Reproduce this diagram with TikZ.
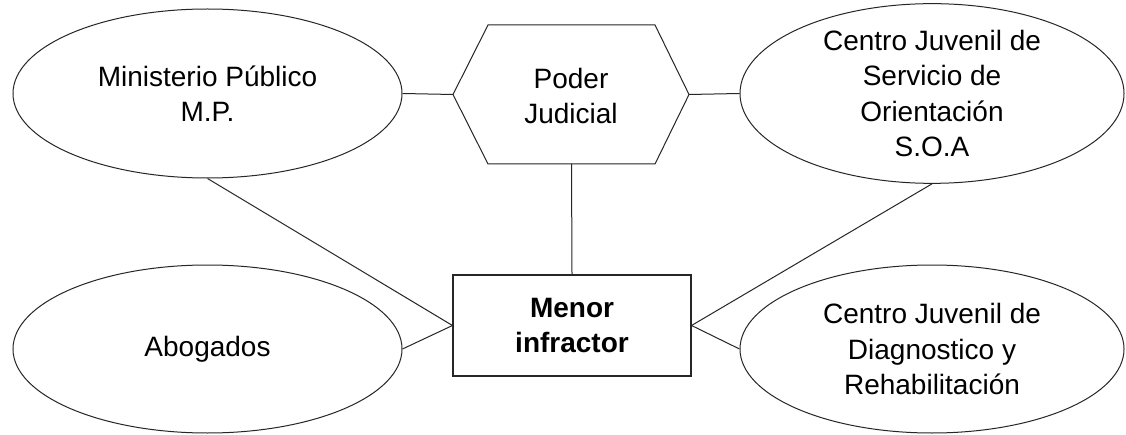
\documentclass[tikz,border=0pt]{standalone}
\usepackage{fontspec}
\setmainfont{Liberation Sans}
\usetikzlibrary{shapes.geometric}
\begin{document}
\begin{tikzpicture}[x=1pt,y=1pt,
  every node/.style={font=\fontsize{28}{35.5}\selectfont, align=center, inner sep=0pt},
  actor/.style={ellipse, draw=black!85, line width=1pt, fill=white},
  centerbox/.style={rectangle, draw=black!85, line width=1.1pt, minimum width=238, minimum height=101, font=\fontsize{28}{35.5}\selectfont\bfseries},
  link/.style={draw=black!85, line width=1pt}
]
\useasboundingbox (0,0) rectangle (1126,434);
\fill[white] (0,0) rectangle (1126,434);

% outer institutions
\node[actor, minimum width=389, minimum height=169] (mp) at (207.5,340.5) {Ministerio Público\\M.P.};
\node[actor, minimum width=389, minimum height=168] (abog) at (207.5,85) {Abogados};
\node[actor, minimum width=384, minimum height=169] (soa) at (932,340.5) {Centro Juvenil de\\Servicio de\\Orientación\\S.O.A};
\node[actor, minimum width=384, minimum height=168] (cjdr) at (932,85) {Centro Juvenil de\\Diagnostico y\\Rehabilitación};

% judiciary hexagon
\coordinate (hexW) at (453,339.5);
\coordinate (hexNW) at (488,409);
\coordinate (hexNE) at (655,409);
\coordinate (hexE) at (689,339.5);
\coordinate (hexSE) at (655,270);
\coordinate (hexSW) at (488,270);
\coordinate (hexS) at (571.5,270);
\draw[link, line join=miter] (hexW) -- (hexNW) -- (hexNE) -- (hexE) -- (hexSE) -- (hexSW) -- cycle;
\node (pj) at (571,338) {Poder\\Judicial};

% central subject
\node[centerbox] (menor) at (572,108.5) {Menor\\infractor};

% connections
\draw[link] (mp.east) -- (hexW);
\draw[link] (hexE) -- (soa.west);
\draw[link] (hexS) -- (menor.north);
\draw[link] (mp.south) -- (menor.west);
\draw[link] (abog.east) -- (menor.west);
\draw[link] (soa.south) -- (menor.east);
\draw[link] (cjdr.west) -- (menor.east);
\end{tikzpicture}
\end{document}
